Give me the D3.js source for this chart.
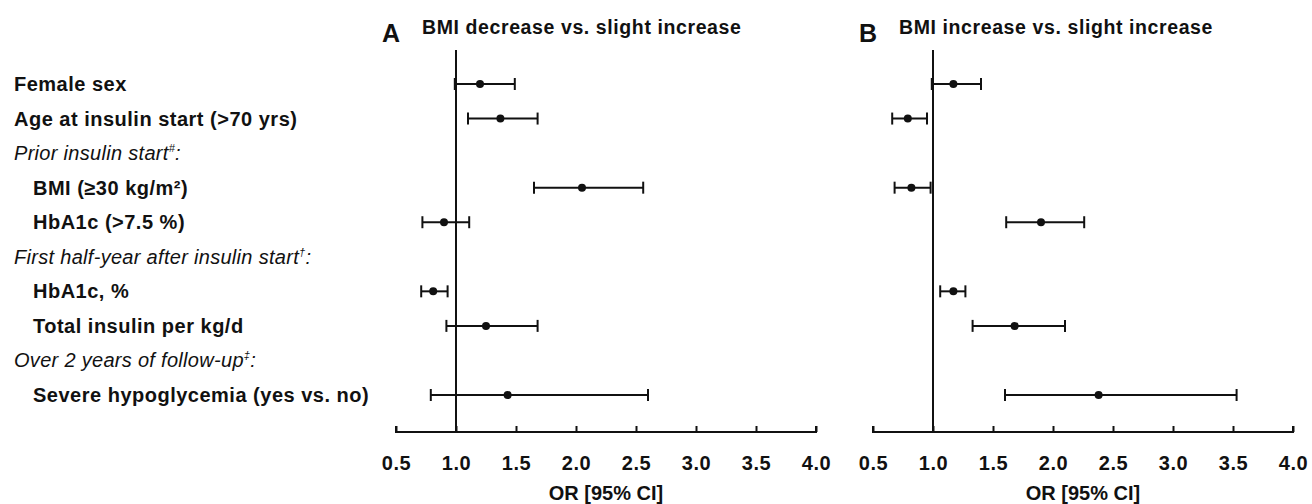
<!DOCTYPE html>
<html><head><meta charset="utf-8">
<script src="https://cdn.jsdelivr.net/npm/d3@7"></script>
<style>body{margin:0;background:#fff}text{font-family:"Liberation Sans",Arial,sans-serif;fill:#111}</style>
</head><body><svg id="c" width="1312" height="504"></svg>
<script>
// rows: label, style (b = bold, i = italic header, s = indented sub item), superscript
const rowLabels = ["Female sex","Age at insulin start (>70 yrs)","Prior insulin start","BMI (\u226530 kg/m\u00b2)","HbA1c (>7.5 %)","First half-year after insulin start","HbA1c, %","Total insulin per kg/d","Over 2 years of follow-up","Severe hypoglycemia (yes vs. no)"];
const rowKind = ["b","b","i","s","s","i","s","s","i","s"];
const rowSup = ["","","#","","","\u2020","","","\u2021",""];
const dataRows = [0,1,3,4,6,7,9];
const orA = [1.20,1.37,2.05,0.90,0.81,1.25,1.43];
const loA = [0.99,1.10,1.65,0.72,0.71,0.92,0.79];
const hiA = [1.49,1.68,2.56,1.11,0.93,1.68,2.60];
const orB = [1.17,0.79,0.82,1.90,1.17,1.68,2.38];
const loB = [0.99,0.66,0.68,1.61,1.06,1.33,1.60];
const hiB = [1.40,0.95,0.98,2.26,1.27,2.10,3.53];
const ticks = [0.5,1.0,1.5,2.0,2.5,3.0,3.5,4.0];

const svg = d3.select("#c");
const y = d3.scaleLinear().domain([0,9]).range([84,395]);

svg.selectAll("text.lab").data(rowLabels).join("text")
  .attr("class","lab")
  .attr("x",(d,i)=>rowKind[i]=="s"?33:14)
  .attr("y",(d,i)=>y(i)+7)
  .style("font-size","20px")
  .style("letter-spacing",(d,i)=>rowKind[i]=="i"?"0.3px":"0.5px")
  .style("font-weight",(d,i)=>rowKind[i]=="i"?"normal":"bold")
  .style("font-style",(d,i)=>rowKind[i]=="i"?"italic":"normal")
  .each(function(d,i){
    const t = d3.select(this);
    t.append("tspan").text(d);
    if (rowSup[i]) t.append("tspan").attr("dy",-8).style("font-size","11px").text(rowSup[i]);
    if (rowKind[i]=="i") t.append("tspan").attr("dy",rowSup[i]?8:0).text(":");
  });

function panel(x0, letter, title, or, lo, hi) {
  const x = d3.scaleLinear().domain([0.5,4.0]).range([x0, x0+420]);
  const g = svg.append("g");
  g.append("text").attr("x",x0-14).attr("y",42).style("font-size","25px").style("font-weight","bold").text(letter);
  g.append("text").attr("x",x0+26).attr("y",34).style("font-size","19.5px").style("font-weight","bold").style("letter-spacing","0.6px").text(title);
  const ax = g.append("g").attr("transform","translate(0,432)")
    .call(d3.axisBottom(x).tickValues(ticks).tickSize(-6).tickFormat(d3.format(".1f")));
  ax.select(".domain").attr("stroke","#111").attr("stroke-width",2).attr("d",`M${x0},-6V0H${x0+420}V-6`);
  ax.selectAll(".tick line").attr("stroke","#111").attr("stroke-width",2);
  ax.selectAll(".tick text").attr("y",0).attr("dy",null).attr("dominant-baseline","middle")
    .attr("transform","translate(0,33)").style("font-size","20px").style("font-weight","bold").style("letter-spacing","0.5px");
  g.append("text").attr("x",x0+210).attr("y",500).attr("text-anchor","middle").style("font-size","20px").style("font-weight","bold").text("OR [95% CI]");
  g.append("line").attr("x1",x(1)).attr("x2",x(1)).attr("y1",50).attr("y2",432).attr("stroke","#111").attr("stroke-width",2);
  const r = g.selectAll("g.r").data(or).join("g").attr("transform",(d,i)=>`translate(0,${y(dataRows[i])})`);
  r.append("line").attr("x1",(d,i)=>x(lo[i])).attr("x2",(d,i)=>x(hi[i])).attr("stroke","#111").attr("stroke-width",2);
  r.append("line").attr("x1",(d,i)=>x(lo[i])).attr("x2",(d,i)=>x(lo[i])).attr("y1",-6).attr("y2",6).attr("stroke","#111").attr("stroke-width",2);
  r.append("line").attr("x1",(d,i)=>x(hi[i])).attr("x2",(d,i)=>x(hi[i])).attr("y1",-6).attr("y2",6).attr("stroke","#111").attr("stroke-width",2);
  r.append("circle").attr("cx",d=>x(d)).attr("r",4).attr("fill","#111");
}
panel(396,"A","BMI decrease vs. slight increase",orA,loA,hiA);
panel(873,"B","BMI increase vs. slight increase",orB,loB,hiB);
</script></body></html>
